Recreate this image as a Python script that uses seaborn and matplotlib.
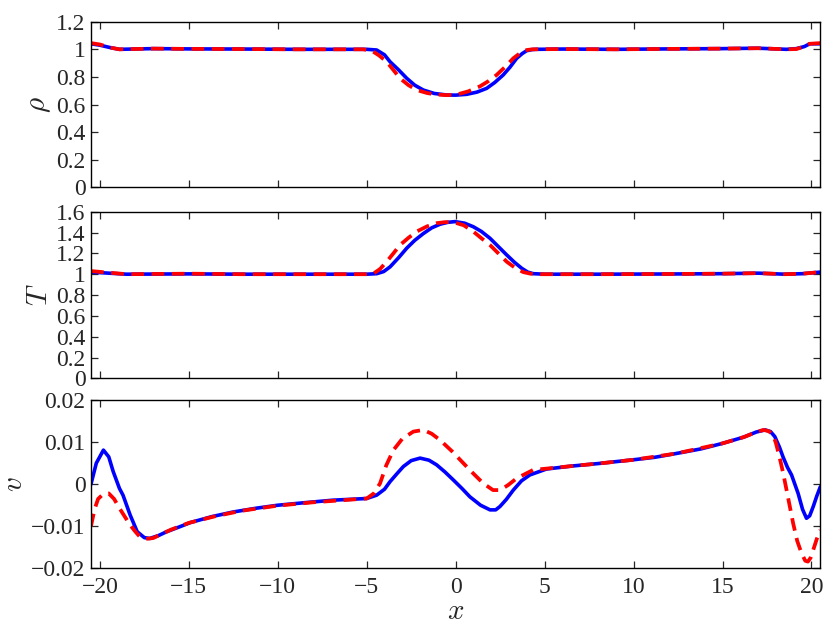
import numpy as np
import pandas as pd
import seaborn as sns
import matplotlib
matplotlib.use('Agg')
import matplotlib.pyplot as plt
from matplotlib.ticker import FuncFormatter

# density rho
rho_x_blue = [-20.5, -20.0, -19.4, -18.9, -17.0, -15.0, -12.0, -9.0, -6.0, -5.0, -4.44, -4.0, -3.69, -3.2,
              -2.75, -2.3, -1.82, -1.2, -0.5, 0.0, 0.62, 1.2, 1.74, 2.2, 2.67, 3.05, 3.43, 3.75, 3.99, 4.3,
              4.55, 6.0, 9.0, 12.0, 15.0, 17.0, 18.6, 19.15, 19.6, 19.9, 20.5]
rho_blue = [1.04, 1.03, 1.012, 1.0, 1.005, 1.003, 1.002, 1.0, 1.0, 1.0, 0.995, 0.96, 0.91, 0.85,
            0.79, 0.74, 0.705, 0.68, 0.669, 0.668, 0.674, 0.69, 0.717, 0.76, 0.814, 0.87, 0.935, 0.97, 0.99, 0.998,
            1.0, 1.002, 1.0, 1.003, 1.005, 1.008, 1.0, 1.005, 1.02, 1.04, 1.04]
rho_x_red = [-20.5, -20.0, -19.4, -18.9, -17.0, -15.0, -12.0, -9.0, -6.0, -5.2, -4.72, -4.3, -3.88, -3.5,
             -3.13, -2.65, -2.19, -1.6, -1.07, -0.5, 0.06, 0.7, 1.37, 1.85, 2.3, 2.8, 3.24, 3.6, 3.9, 4.3,
             6.0, 9.0, 12.0, 15.0, 17.0, 18.6, 19.15, 19.6, 19.9, 20.5]
rho_red = [1.045, 1.035, 1.012, 1.0, 1.005, 1.003, 1.002, 1.0, 1.0, 1.0, 0.99, 0.955, 0.91, 0.85,
           0.79, 0.74, 0.705, 0.683, 0.672, 0.668, 0.672, 0.695, 0.732, 0.77, 0.814, 0.875, 0.935, 0.97, 0.993, 1.0,
           1.002, 1.0, 1.003, 1.005, 1.008, 1.0, 1.002, 1.02, 1.04, 1.045]

# temperature T
T_x_blue = [-20.5, -19.5, -18.5, -15, -12, -9, -6, -5.0, -4.44, -4.05, -3.69, -3.2, -2.75, -2.3, -1.82,
            -1.35, -0.88, -0.45, -0.04, 0.5, 0.99, 1.45, 1.93, 2.4, 2.87, 3.3, 3.71, 4.05, 4.36, 5.0,
            8, 12, 15, 17, 18.5, 19.5, 20.5]
T_blue = [1.02, 1.01, 1.0, 1.003, 1.0, 1.0, 1.0, 1.0, 1.005, 1.025, 1.07, 1.16, 1.25, 1.325, 1.39,
          1.445, 1.48, 1.498, 1.505, 1.49, 1.456, 1.41, 1.345, 1.265, 1.185, 1.115, 1.057, 1.02, 1.005, 1.0,
          1.0, 1.002, 1.005, 1.01, 1.0, 1.005, 1.02]
T_x_red = [-20.5, -19.5, -18.5, -15, -12, -9, -6, -5.0, -4.63, -4.25, -3.88, -3.5, -3.13, -2.65, -2.19,
           -1.6, -1.07, -0.6, -0.13, 0.45, 0.99, 1.45, 1.93, 2.4, 2.87, 3.35, 3.8, 4.2, 4.5, 5.0,
           8, 12, 15, 17, 18.5, 19.5, 20.5]
T_red = [1.03, 1.015, 1.0, 1.005, 1.0, 1.0, 1.0, 1.0, 1.005, 1.05, 1.12, 1.2, 1.28, 1.35, 1.41,
         1.46, 1.49, 1.5, 1.5, 1.47, 1.41, 1.345, 1.28, 1.2, 1.12, 1.06, 1.02, 1.005, 1.0, 1.0,
         1.0, 1.002, 1.005, 1.01, 1.0, 1.005, 1.02]

# velocity v
v_x_blue = [-20.5, -20.2, -19.8, -19.5, -19.25, -18.9, -18.7, -18.3, -17.9, -17.5, -17.2, -16.7, -16.25,
            -15.5, -14.9, -13.7, -12.5, -11.2, -10.0, -8.5, -6.9, -5.0, -4.44, -4.0, -3.69, -3.3, -2.94,
            -2.5, -2.0, -1.5, -1.07, -0.6, -0.13, 0.35, 0.8, 1.4, 1.93, 2.25, 2.49, 2.85, 3.24, 3.7, 4.17,
            5.1, 6.5, 8.0, 9.98, 11.2, 12.4, 13.8, 15.0, 16.2, 16.9, 17.4, 17.7, 17.94, 18.2, 18.4, 18.65,
            18.88, 19.25, 19.5, 19.72, 19.9, 20.1, 20.3, 20.5]
v_blue = [0.0, 0.005, 0.0081, 0.0065, 0.003, -0.001, -0.0026, -0.0073, -0.0113, -0.0127, -0.0129, -0.0122, -0.0113,
          -0.0101, -0.0091, -0.0077, -0.0066, -0.0057, -0.0050, -0.0044, -0.0038, -0.0034, -0.0026, -0.0012, 0.0006, 0.0025, 0.0042,
          0.0056, 0.0062, 0.0057, 0.0046, 0.0029, 0.0010, -0.0010, -0.0030, -0.0050, -0.0061, -0.0061, -0.0053, -0.0036, -0.0014, 0.0008, 0.0022,
          0.0036, 0.0043, 0.0049, 0.0058, 0.0064, 0.0073, 0.0084, 0.0097, 0.0112, 0.0124, 0.0129, 0.0125, 0.0113, 0.0088, 0.0065, 0.0040,
          0.0022, -0.0022, -0.0060, -0.0081, -0.0075, -0.0053, -0.0028, -0.0006]
v_x_red = [-20.5, -20.3, -20.1, -19.8, -19.5, -19.2, -18.9, -18.6, -18.3, -18.0, -17.75, -17.4, -17.0, -16.6,
           -16.0, -15.0, -13.5, -12.0, -10.0, -8.0, -6.0, -5.0, -4.6, -4.25, -3.9, -3.5, -3.0, -2.38, -1.82,
           -1.35, -0.88, -0.2, 0.43, 1.0, 1.55, 2.1, 2.5, 2.95, 3.43, 4.36, 5.1, 6.5, 8.0, 10.0, 12.4, 15.0,
           16.2, 16.9, 17.3, 17.6, 17.84, 18.0, 18.2, 18.4, 18.6, 18.97, 19.2, 19.44, 19.65, 19.8, 19.95,
           20.1, 20.3, 20.5]
v_red = [-0.0100, -0.0060, -0.0035, -0.0023, -0.0022, -0.0035, -0.0057, -0.0077, -0.0097, -0.0113, -0.0125, -0.0130, -0.0128, -0.0120,
         -0.0108, -0.0092, -0.0076, -0.0063, -0.0051, -0.0043, -0.0037, -0.0034, -0.0022, 0.0002, 0.0045, 0.0081, 0.0108, 0.0125, 0.0129,
         0.0120, 0.0105, 0.0078, 0.0050, 0.0025, 0.0002, -0.0014, -0.0014, -0.0002, 0.0014, 0.0034, 0.0037, 0.0043, 0.0049, 0.0058, 0.0073, 0.0097,
         0.0112, 0.0124, 0.0129, 0.0126, 0.0117, 0.0098, 0.0065, 0.0028, -0.0014, -0.0093, -0.0135, -0.0164, -0.0182, -0.0184, -0.0175,
         -0.0156, -0.0130, -0.0109]

x_ticks = [-20, -15, -10, -5, 0, 5, 10, 15, 20]

sns.set_style('ticks')
plt.rcParams['font.family'] = ['Liberation Serif', 'DejaVu Serif']
plt.rcParams['mathtext.fontset'] = 'cm'
plt.rcParams['axes.unicode_minus'] = True

fig = plt.figure(figsize=(8.3, 6.24), dpi=100)
# axes boxes (left, bottom, width, height) in figure fraction
boxes = [[0.1096, 0.6998, 0.8788, 0.2654],
         [0.1096, 0.3937, 0.8788, 0.2670],
         [0.1096, 0.0892, 0.8788, 0.2697]]

panels = [
    (rho_x_blue, rho_blue, rho_x_red, rho_red, r'$\rho$', (0, 1.2), np.arange(0, 1.21, 0.2)),
    (T_x_blue, T_blue, T_x_red, T_red, r'$T$', (0, 1.6), np.arange(0, 1.61, 0.2)),
    (v_x_blue, v_blue, v_x_red, v_red, r'$v$', (-0.02, 0.02), [-0.02, -0.01, 0, 0.01, 0.02]),
]

fmt = FuncFormatter(lambda val, pos: ('%g' % round(val, 6)).replace('-', '\u2212'))

for i, (xb, yb, xr, yr, lab, ylim, yt) in enumerate(panels):
    ax = fig.add_axes(boxes[i])
    sns.lineplot(x=xb, y=yb, ax=ax, color='#0000ff', linewidth=2.6, sort=False)
    sns.lineplot(x=xr, y=yr, ax=ax, color='#ff0000', linewidth=2.7, sort=False, dashes=False)
    ax.lines[-1].set_linestyle((0, (3.4, 2.0)))
    ax.set_xlim(-20.5, 20.5)
    ax.set_ylim(*ylim)
    ax.set_xticks(x_ticks)
    ax.set_yticks(yt)
    ax.yaxis.set_major_formatter(fmt)
    ax.xaxis.set_major_formatter(fmt)
    ax.tick_params(direction='in', top=True, right=True, length=5, width=0.9,
                   labelsize=17, pad=4)
    for s in ax.spines.values():
        s.set_linewidth(1.0)
        s.set_color('black')
    ax.set_ylabel(lab, fontsize=21, labelpad=2)
    if i < 2:
        ax.tick_params(labelbottom=False)
    else:
        ax.set_xlabel(r'$x$', fontsize=21, labelpad=1)
        ax.tick_params(axis='x', pad=6)

fig.savefig('out.png', dpi=100)
